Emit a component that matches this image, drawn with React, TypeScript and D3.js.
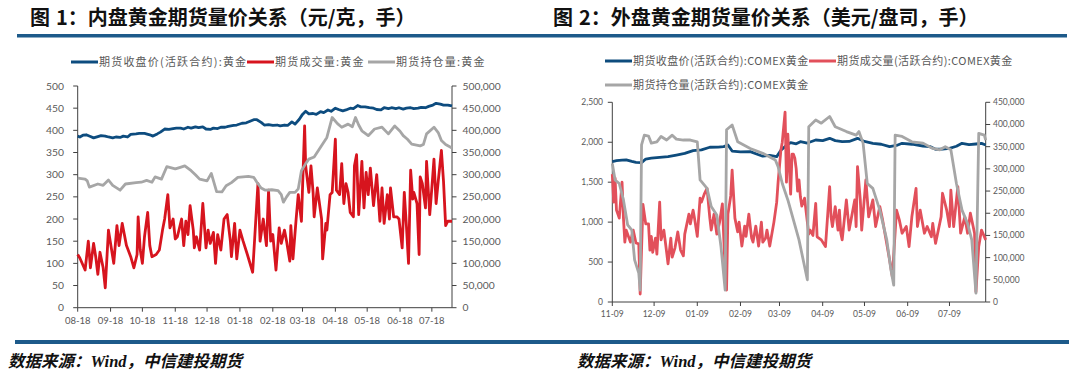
import React from "react";
import * as d3 from "d3";

type Pt = [string, number];

// ---------- Chart 1 (内盘) ----------
const L_TITLE = ["图", "1：内盘黄金期货量价关系（元/克，手）"];
const L_LEGEND = ["期货收盘价(活跃合约):黄金", "期货成交量:黄金", "期货持仓量:黄金"];
const L_MONTHS = ["2018-08-01","2018-09-01","2018-10-01","2018-11-01","2018-12-01","2019-01-01","2019-02-01","2019-03-01","2019-04-01","2019-05-01","2019-06-01","2019-07-01"];
const L_MONTH_LABELS = ["08-18","09-18","10-18","11-18","12-18","01-18","02-18","03-18","04-18","05-18","06-18","07-18"];
const L_DOMAIN = ["2018-08-01", "2019-07-20"];
const L_PRICE_TICKS = [0,50,100,150,200,250,300,350,400,450,500];
const L_VOL_TICKS = [0,50000,100000,150000,200000,250000,300000,350000,400000,450000,500000];

const L_PRICE: Pt[] = [
["2018-08-01",387],["2018-08-03",385],["2018-08-06",389],["2018-08-09",390],["2018-08-13",386],["2018-08-16",383],["2018-08-20",386],["2018-08-23",388],["2018-08-27",387],["2018-08-30",385],
["2018-09-03",383],["2018-09-06",385],["2018-09-10",384],["2018-09-13",387],["2018-09-17",385],["2018-09-20",391],["2018-09-25",392],["2018-09-28",393],
["2018-10-03",393],["2018-10-08",390],["2018-10-11",387],["2018-10-15",392],["2018-10-18",396],["2018-10-22",403],["2018-10-26",402],["2018-10-30",404],
["2018-11-02",405],["2018-11-06",405],["2018-11-09",403],["2018-11-13",407],["2018-11-16",405],["2018-11-20",408],["2018-11-23",406],["2018-11-27",408],["2018-11-30",403],
["2018-12-04",402],["2018-12-07",405],["2018-12-11",404],["2018-12-14",407],["2018-12-18",407],["2018-12-21",409],["2018-12-26",411],["2018-12-29",412],
["2019-01-03",416],["2019-01-07",417],["2019-01-10",420],["2019-01-14",424],["2019-01-17",424],["2019-01-21",418],["2019-01-24",412],["2019-01-28",413],
["2019-02-01",411],["2019-02-05",412],["2019-02-08",410],["2019-02-12",412],["2019-02-15",411],["2019-02-19",419],["2019-02-22",414],["2019-02-26",425],
["2019-03-01",436],["2019-03-04",443],["2019-03-07",437],["2019-03-11",438],["2019-03-14",436],["2019-03-18",442],["2019-03-21",440],["2019-03-25",446],["2019-03-28",443],
["2019-04-01",450],["2019-04-04",447],["2019-04-08",444],["2019-04-11",446],["2019-04-15",450],["2019-04-18",449],["2019-04-22",456],["2019-04-25",453],["2019-04-29",453],
["2019-05-03",451],["2019-05-07",450],["2019-05-10",447],["2019-05-14",446],["2019-05-17",451],["2019-05-21",449],["2019-05-24",451],["2019-05-28",449],["2019-05-31",451],
["2019-06-04",448],["2019-06-07",450],["2019-06-11",451],["2019-06-14",449],["2019-06-18",450],["2019-06-21",452],["2019-06-25",451],["2019-06-28",454],
["2019-07-02",457],["2019-07-05",461],["2019-07-09",459],["2019-07-12",457],["2019-07-16",457],["2019-07-20",455]
];

const L_VOL: Pt[] = [
["2018-08-01",120000],["2018-08-03",112000],["2018-08-08",85000],["2018-08-11",150000],["2018-08-13",90000],["2018-08-16",145000],["2018-08-18",115000],["2018-08-20",75000],["2018-08-22",125000],["2018-08-25",90000],["2018-08-27",45000],["2018-08-30",175000],
["2018-09-02",130000],["2018-09-04",100000],["2018-09-07",185000],["2018-09-09",140000],["2018-09-12",190000],["2018-09-14",165000],["2018-09-16",140000],["2018-09-20",115000],["2018-09-23",90000],["2018-09-26",120000],["2018-09-27",205000],["2018-09-29",130000],
["2018-10-01",100000],["2018-10-03",160000],["2018-10-06",215000],["2018-10-08",140000],["2018-10-10",115000],["2018-10-14",120000],["2018-10-17",130000],["2018-10-20",175000],["2018-10-22",200000],["2018-10-25",255000],["2018-10-27",180000],["2018-10-30",200000],
["2018-11-01",155000],["2018-11-03",160000],["2018-11-07",200000],["2018-11-09",140000],["2018-11-11",195000],["2018-11-13",165000],["2018-11-15",230000],["2018-11-18",175000],["2018-11-19",135000],["2018-11-21",160000],["2018-11-24",130000],["2018-11-27",235000],["2018-11-30",135000],
["2018-12-02",175000],["2018-12-04",145000],["2018-12-07",170000],["2018-12-09",100000],["2018-12-11",165000],["2018-12-14",130000],["2018-12-17",200000],["2018-12-20",210000],["2018-12-23",150000],["2018-12-24",115000],["2018-12-27",190000],["2018-12-29",110000],
["2019-01-01",175000],["2019-01-04",150000],["2019-01-08",120000],["2019-01-13",80000],["2019-01-15",160000],["2019-01-18",280000],["2019-01-20",150000],["2019-01-23",200000],["2019-01-26",140000],["2019-01-28",265000],["2019-01-30",150000],
["2019-02-01",165000],["2019-02-04",85000],["2019-02-07",180000],["2019-02-09",145000],["2019-02-12",175000],["2019-02-14",150000],["2019-02-17",105000],["2019-02-18",185000],["2019-02-20",110000],["2019-02-23",200000],["2019-02-25",255000],["2019-02-28",195000],
["2019-03-03",410000],["2019-03-04",320000],["2019-03-07",260000],["2019-03-09",320000],["2019-03-11",260000],["2019-03-12",205000],["2019-03-15",270000],["2019-03-19",200000],["2019-03-20",110000],["2019-03-23",190000],["2019-03-24",175000],["2019-03-27",255000],["2019-03-29",260000],
["2019-04-01",380000],["2019-04-02",265000],["2019-04-05",255000],["2019-04-07",325000],["2019-04-09",235000],["2019-04-11",280000],["2019-04-13",260000],["2019-04-15",215000],["2019-04-18",205000],["2019-04-19",320000],["2019-04-21",345000],["2019-04-23",210000],["2019-04-26",330000],["2019-04-28",225000],["2019-04-30",305000],
["2019-05-02",255000],["2019-05-04",315000],["2019-05-07",230000],["2019-05-10",300000],["2019-05-13",195000],["2019-05-15",270000],["2019-05-17",190000],["2019-05-20",255000],["2019-05-22",200000],["2019-05-23",270000],["2019-05-26",205000],["2019-05-29",205000],["2019-05-31",200000],
["2019-06-03",135000],["2019-06-05",260000],["2019-06-07",185000],["2019-06-09",100000],["2019-06-11",310000],["2019-06-13",245000],["2019-06-14",260000],["2019-06-17",235000],["2019-06-19",120000],["2019-06-20",295000],["2019-06-22",280000],["2019-06-25",225000],["2019-06-26",330000],["2019-06-29",210000],
["2019-07-01",270000],["2019-07-03",335000],["2019-07-05",235000],["2019-07-07",285000],["2019-07-10",355000],["2019-07-12",285000],["2019-07-14",185000],["2019-07-16",195000],["2019-07-20",195000]
];

const L_OI: Pt[] = [
["2018-08-01",292000],["2018-08-08",290000],["2018-08-10",286000],["2018-08-12",272000],["2018-08-20",279000],["2018-08-25",276000],["2018-08-30",288000],
["2018-09-03",276000],["2018-09-10",265000],["2018-09-15",279000],["2018-09-25",282000],["2018-09-30",283000],
["2018-10-05",287000],["2018-10-10",283000],["2018-10-13",295000],["2018-10-19",290000],["2018-10-24",318000],
["2018-11-01",313000],["2018-11-05",316000],["2018-11-10",320000],["2018-11-16",309000],["2018-11-20",300000],["2018-11-24",290000],
["2018-12-01",286000],["2018-12-05",303000],["2018-12-10",262000],["2018-12-15",261000],["2018-12-19",275000],["2018-12-24",282000],["2018-12-30",294000],
["2019-01-09",296000],["2019-01-14",294000],["2019-01-17",283000],["2019-01-21",270000],["2019-01-25",265000],["2019-01-31",266000],
["2019-02-06",264000],["2019-02-09",255000],["2019-02-11",238000],["2019-02-14",250000],["2019-02-17",260000],["2019-02-22",260000],["2019-02-25",268000],["2019-02-28",309000],
["2019-03-04",325000],["2019-03-07",335000],["2019-03-12",340000],["2019-03-18",362000],["2019-03-24",384000],["2019-03-29",429000],
["2019-04-03",415000],["2019-04-07",407000],["2019-04-13",414000],["2019-04-17",408000],["2019-04-20",429000],["2019-04-23",412000],["2019-04-26",399000],
["2019-05-02",388000],["2019-05-08",403000],["2019-05-15",407000],["2019-05-21",392000],["2019-05-27",410000],
["2019-06-01",398000],["2019-06-04",388000],["2019-06-08",380000],["2019-06-12",369000],["2019-06-20",365000],["2019-06-23",368000],["2019-06-26",392000],
["2019-07-03",407000],["2019-07-07",395000],["2019-07-10",377000],["2019-07-14",368000],["2019-07-20",360000]
];

// ---------- Chart 2 (外盘) ----------
const R_TITLE = ["图", "2：外盘黄金期货量价关系（美元/盘司，手）"];
const R_LEGEND = ["期货收盘价(活跃合约):COMEX黄金", "期货成交量(活跃合约):COMEX黄金", "期货持仓量(活跃合约):COMEX黄金"];
const R_MONTHS = ["2018-11-01","2018-12-01","2019-01-01","2019-02-01","2019-03-01","2019-04-01","2019-05-01","2019-06-01","2019-07-01"];
const R_MONTH_LABELS = ["11-09","12-09","01-09","02-09","03-09","04-09","05-09","06-09","07-09"];
const R_DOMAIN = ["2018-11-01", "2019-07-27"];
const R_PRICE_TICKS = [0,500,1000,1500,2000,2500];
const R_VOL_TICKS = [0,50000,100000,150000,200000,250000,300000,350000,400000,450000];

const R_PRICE: Pt[] = [
["2018-11-01",1757],["2018-11-04",1770],["2018-11-08",1775],["2018-11-11",1778],["2018-11-15",1760],["2018-11-18",1749],["2018-11-22",1745],["2018-11-25",1790],["2018-11-29",1800],
["2018-12-05",1811],["2018-12-11",1820],["2018-12-17",1840],["2018-12-23",1860],["2018-12-29",1895],
["2019-01-04",1905],["2019-01-10",1937],["2019-01-16",1940],["2019-01-20",1945],["2019-01-23",1966],["2019-01-26",1890],
["2019-02-01",1880],["2019-02-08",1882],["2019-02-13",1850],["2019-02-17",1825],["2019-02-22",1835],["2019-02-27",1820],
["2019-03-02",1900],["2019-03-06",1960],["2019-03-09",1995],["2019-03-13",1980],["2019-03-16",2007],["2019-03-21",1990],["2019-03-27",2028],
["2019-04-01",2020],["2019-04-06",2049],["2019-04-10",2020],["2019-04-15",2007],["2019-04-20",2010],["2019-04-26",2049],
["2019-05-01",2010],["2019-05-07",1987],["2019-05-13",1975],["2019-05-19",1945],["2019-05-24",1960],["2019-05-28",1987],
["2019-06-04",1975],["2019-06-12",1953],["2019-06-17",1945],["2019-06-21",1912],["2019-06-26",1915],
["2019-07-01",1924],["2019-07-06",1950],["2019-07-10",1987],["2019-07-15",1970],["2019-07-20",1978],["2019-07-24",1985],["2019-07-27",1966]
];

const R_VOL: Pt[] = [
["2018-11-01",288000],["2018-11-02",225000],["2018-11-03",279000],["2018-11-04",207000],["2018-11-06",189000],["2018-11-08",270000],["2018-11-09",189000],["2018-11-10",135000],["2018-11-11",162000],["2018-11-14",135000],["2018-11-16",162000],["2018-11-18",133000],["2018-11-20",131000],["2018-11-21",18000],["2018-11-23",220000],["2018-11-25",176000],["2018-11-27",176000],["2018-11-28",117000],["2018-11-29",148000],["2018-11-30",112000],
["2018-12-02",144000],["2018-12-03",108000],["2018-12-05",225000],["2018-12-06",140000],["2018-12-08",162000],["2018-12-10",112000],["2018-12-11",86000],["2018-12-13",144000],["2018-12-14",101000],["2018-12-16",122000],["2018-12-18",158000],["2018-12-20",117000],["2018-12-22",104000],["2018-12-23",153000],["2018-12-26",198000],["2018-12-27",176000],["2018-12-29",207000],["2018-12-30",189000],
["2019-01-01",148000],["2019-01-03",234000],["2019-01-04",225000],["2019-01-06",243000],["2019-01-08",256000],["2019-01-10",189000],["2019-01-11",162000],["2019-01-13",198000],["2019-01-15",153000],["2019-01-17",180000],["2019-01-19",221000],["2019-01-20",144000],["2019-01-21",72000],["2019-01-22",27000],["2019-01-23",198000],["2019-01-25",239000],["2019-01-26",297000],["2019-01-28",189000],["2019-01-30",158000],["2019-01-31",180000],
["2019-02-02",126000],["2019-02-04",171000],["2019-02-05",148000],["2019-02-07",198000],["2019-02-09",144000],["2019-02-10",135000],["2019-02-12",171000],["2019-02-14",126000],["2019-02-16",180000],["2019-02-17",135000],["2019-02-19",144000],["2019-02-20",162000],["2019-02-22",126000],["2019-02-25",180000],["2019-02-27",225000],["2019-02-28",270000],
["2019-03-02",342000],["2019-03-03",360000],["2019-03-05",428000],["2019-03-06",270000],["2019-03-07",378000],["2019-03-09",243000],["2019-03-10",333000],["2019-03-11",333000],["2019-03-12",324000],["2019-03-13",300000],["2019-03-14",250000],["2019-03-15",275000],["2019-03-16",237000],["2019-03-17",216000],["2019-03-19",234000],["2019-03-22",153000],["2019-03-23",162000],["2019-03-25",150000],["2019-03-27",222000],["2019-03-28",147000],["2019-03-31",140000],
["2019-04-03",125000],["2019-04-06",260000],["2019-04-07",192000],["2019-04-08",170000],["2019-04-10",215000],["2019-04-12",162000],["2019-04-13",207000],["2019-04-14",155000],["2019-04-15",140000],["2019-04-18",230000],["2019-04-20",162000],["2019-04-24",230000],["2019-04-25",170000],["2019-04-26",305000],["2019-04-28",230000],["2019-04-29",162000],
["2019-05-02",275000],["2019-05-04",192000],["2019-05-07",230000],["2019-05-09",170000],["2019-05-12",215000],["2019-05-14",185000],["2019-05-19",95000],["2019-05-21",57000],["2019-05-24",207000],["2019-05-26",185000],["2019-05-28",155000],["2019-05-31",170000],
["2019-06-02",125000],["2019-06-04",192000],["2019-06-07",256000],["2019-06-08",170000],["2019-06-10",207000],["2019-06-13",155000],["2019-06-15",170000],["2019-06-18",147000],["2019-06-19",177000],["2019-06-21",132000],["2019-06-25",192000],["2019-06-26",245000],["2019-06-29",207000],
["2019-07-01",170000],["2019-07-02",252000],["2019-07-04",170000],["2019-07-07",260000],["2019-07-09",155000],["2019-07-12",192000],["2019-07-14",155000],["2019-07-16",200000],["2019-07-18",170000],["2019-07-19",155000],["2019-07-20",23000],["2019-07-22",125000],["2019-07-24",162000],["2019-07-25",155000],["2019-07-27",140000]
];

const R_OI: Pt[] = [
["2018-11-01",312000],["2018-11-03",275000],["2018-11-06",267000],["2018-11-09",230000],["2018-11-12",174000],["2018-11-15",162000],["2018-11-17",95000],["2018-11-20",65000],["2018-11-21",27000],["2018-11-22",354000],["2018-11-24",376000],["2018-11-27",374000],["2018-11-29",358000],
["2018-12-03",361000],["2018-12-06",373000],["2018-12-10",365000],["2018-12-14",376000],["2018-12-17",367000],["2018-12-22",365000],["2018-12-27",365000],
["2019-01-01",361000],["2019-01-03",275000],["2019-01-08",256000],["2019-01-11",215000],["2019-01-15",196000],["2019-01-18",125000],["2019-01-21",27000],["2019-01-22",388000],["2019-01-26",399000],["2019-01-30",361000],
["2019-02-08",346000],["2019-02-17",335000],["2019-02-26",320000],["2019-02-28",305000],
["2019-03-03",267000],["2019-03-07",230000],["2019-03-11",185000],["2019-03-15",140000],["2019-03-19",80000],["2019-03-21",50000],["2019-03-22",395000],["2019-03-27",410000],["2019-03-31",403000],
["2019-04-06",418000],["2019-04-10",395000],["2019-04-18",384000],["2019-04-25",376000],["2019-04-27",384000],["2019-04-30",358000],
["2019-05-03",267000],["2019-05-07",256000],["2019-05-12",207000],["2019-05-17",140000],["2019-05-20",72000],["2019-05-22",38000],["2019-05-23",376000],["2019-05-28",373000],
["2019-06-04",361000],["2019-06-12",358000],["2019-06-19",346000],["2019-06-24",343000],["2019-06-28",350000],
["2019-07-02",343000],["2019-07-06",267000],["2019-07-10",207000],["2019-07-14",177000],["2019-07-17",140000],["2019-07-20",20000],["2019-07-22",380000],["2019-07-26",376000],["2019-07-27",365000]
];

const FOOTER = ["数据来源：", "Wind", "，中信建投期货"];

// ---------- styling ----------
const RULE = "#1D5A8A";
const GRAY = "#A6A6A6";
const LABEL = "#595959";
const AXIS = "#404040";
const TICK_FONT = "Lato, 'Liberation Sans', sans-serif";
const CJK = "'Noto Sans CJK SC', sans-serif";

const parse = d3.timeParse("%Y-%m-%d");

type PanelProps = {
  domain: string[];
  x0: number; x1: number; y0: number; y1: number;
  priceTicks: number[]; volTicks: number[];
  months: string[]; monthLabels: string[];
  price: Pt[]; vol: Pt[]; oi: Pt[];
  blue: string; red: string;
  fs: number; xfs: number; xLabelY: number;
  leftLabelX: number; rightLabelX: number;
};

function Panel(p: PanelProps) {
  const x = d3.scaleTime().domain(p.domain.map((s) => parse(s) as Date)).range([p.x0, p.x1]);
  const yP = d3.scaleLinear().domain([0, p.priceTicks[p.priceTicks.length - 1]]).range([p.y0, p.y1]);
  const yV = d3.scaleLinear().domain([0, p.volTicks[p.volTicks.length - 1]]).range([p.y0, p.y1]);
  const mk = (y: d3.ScaleLinear<number, number>) =>
    d3.line<Pt>().x((d) => x(parse(d[0]) as Date)).y((d) => y(d[1]));
  const fmt = d3.format(",");
  return (
    <g>
      <line x1={p.x0} x2={p.x0} y1={p.y1} y2={p.y0} stroke={AXIS} strokeWidth={1} />
      <line x1={p.x1} x2={p.x1} y1={p.y1} y2={p.y0} stroke={AXIS} strokeWidth={1} />
      <line x1={p.x0} x2={p.x1} y1={p.y0} y2={p.y0} stroke={AXIS} strokeWidth={1} />
      {p.priceTicks.map((t) => (
        <g key={"p" + t}>
          <line x1={p.x0 - 4.5} x2={p.x0} y1={yP(t)} y2={yP(t)} stroke={AXIS} />
          <text x={p.leftLabelX} y={yP(t)} dy="0.35em" textAnchor="end" fontSize={p.fs} fill={LABEL} fontFamily={TICK_FONT}>{fmt(t)}</text>
        </g>
      ))}
      {p.volTicks.map((t) => (
        <g key={"v" + t}>
          <line x1={p.x1} x2={p.x1 + 4.5} y1={yV(t)} y2={yV(t)} stroke={AXIS} />
          <text x={p.rightLabelX} y={yV(t)} dy="0.35em" textAnchor="start" fontSize={p.fs} fill={LABEL} fontFamily={TICK_FONT}>{fmt(t)}</text>
        </g>
      ))}
      {p.months.map((m, i) => {
        const xx = x(parse(m) as Date);
        return (
          <g key={m}>
            <line x1={xx} x2={xx} y1={p.y0} y2={p.y0 + 4} stroke={AXIS} />
            <text x={xx} y={p.xLabelY} textAnchor="middle" fontSize={p.xfs} fill={LABEL} fontFamily={TICK_FONT}>{p.monthLabels[i]}</text>
          </g>
        );
      })}
      <path d={mk(yP)(p.price) || ""} fill="none" stroke={p.blue} strokeWidth={2.8} strokeLinejoin="round" />
      <path d={mk(yV)(p.vol) || ""} fill="none" stroke={p.red} strokeWidth={2.8} strokeLinejoin="round" />
      <path d={mk(yV)(p.oi) || ""} fill="none" stroke={GRAY} strokeWidth={2.8} strokeLinejoin="round" />
    </g>
  );
}

function LegendItem({ x, y, color, label, ls }: { x: number; y: number; color: string; label: string; ls: number }) {
  return (
    <g>
      <line x1={x} x2={x + 27} y1={y} y2={y} stroke={color} strokeWidth={3} />
      <text x={x + 28} y={y} dy="0.36em" fontSize={11} fill={LABEL} fontFamily={CJK} letterSpacing={ls}>{label}</text>
    </g>
  );
}

function Title({ x, parts }: { x: number; parts: string[] }) {
  return (
    <text x={x} y={25} fontSize={20} fontWeight={700} fontFamily={CJK} fill="#111">
      {parts[0]}
      <tspan dx={6}>{parts[1]}</tspan>
    </text>
  );
}

export default function App() {
  const LB = "#0D4C7F", LR = "#D7141E", RB = "#0E4C7D", RR = "#E2505B";
  return (
    <svg width={1080} height={379} style={{ position: "absolute", left: 0, top: 0, background: "#fff" }}>
      <rect width={1080} height={379} fill="#fff" />
      <Title x={30} parts={L_TITLE} />
      <Title x={553} parts={R_TITLE} />
      <rect x={17} y={34} width={1050} height={3.5} fill={RULE} />

      <LegendItem x={71} y={62} color={LB} label={L_LEGEND[0]} ls={1.2} />
      <LegendItem x={247} y={62} color={LR} label={L_LEGEND[1]} ls={1.2} />
      <LegendItem x={368} y={62} color={GRAY} label={L_LEGEND[2]} ls={1.2} />

      <LegendItem x={605} y={61} color={RB} label={R_LEGEND[0]} ls={0.4} />
      <LegendItem x={809} y={61} color={RR} label={R_LEGEND[1]} ls={0.4} />
      <LegendItem x={605} y={85} color={GRAY} label={R_LEGEND[2]} ls={0.4} />

      <Panel domain={L_DOMAIN} x0={77.7} x1={452} y0={307.7} y1={86}
        priceTicks={L_PRICE_TICKS} volTicks={L_VOL_TICKS} months={L_MONTHS} monthLabels={L_MONTH_LABELS}
        price={L_PRICE} vol={L_VOL} oi={L_OI} blue={LB} red={LR}
        fs={10.3} xfs={9.5} xLabelY={324} leftLabelX={64} rightLabelX={462.5} />
      <Panel domain={R_DOMAIN} x0={612.3} x1={985.7} y0={302} y1={102.3}
        priceTicks={R_PRICE_TICKS} volTicks={R_VOL_TICKS} months={R_MONTHS} monthLabels={R_MONTH_LABELS}
        price={R_PRICE} vol={R_VOL} oi={R_OI} blue={RB} red={RR}
        fs={8.5} xfs={8.5} xLabelY={317} leftLabelX={603} rightLabelX={993} />

      <rect x={15} y={340} width={1054} height={4} fill={RULE} />
      {[8, 577].map((fx) => (
        <text key={fx} x={fx} y={367} fontSize={16.5} fontWeight={700} fontStyle="italic" fontFamily={CJK} fill="#111">
          {FOOTER[0]}
          <tspan fontFamily="'Liberation Serif', serif">{FOOTER[1]}</tspan>
          {FOOTER[2]}
        </text>
      ))}
    </svg>
  );
}
